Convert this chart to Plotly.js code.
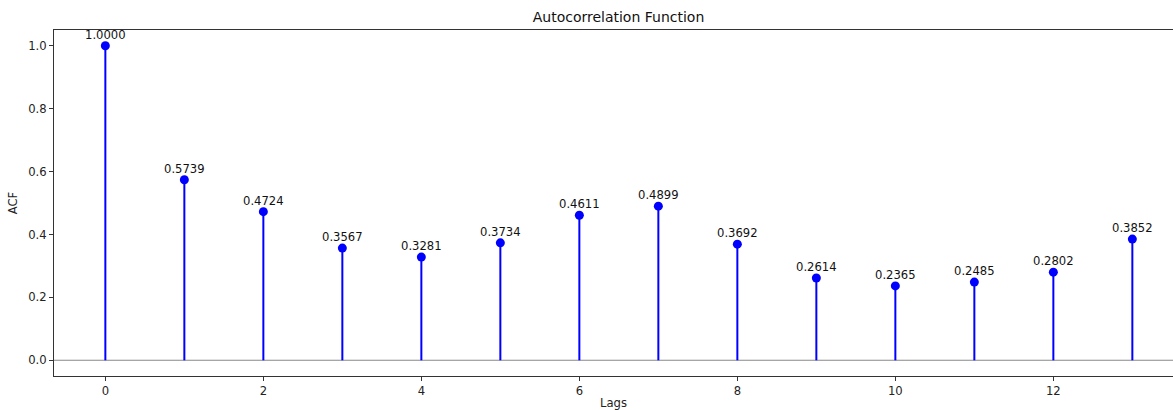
<!DOCTYPE html>
<html>
<head>
<meta charset="utf-8">
<script src="https://cdn.plot.ly/plotly-3.0.1.min.js"></script>
<style>html,body{margin:0;padding:0;background:#fff;}#chart{width:1173px;height:410px;}</style>
</head>
<body>
<div id="chart"></div>
<script>
const lags = [0, 1, 2, 3, 4, 5, 6, 7, 8, 9, 10, 11, 12, 13];
const acfValues = [1.0000, 0.5739, 0.4724, 0.3567, 0.3281, 0.3734, 0.4611, 0.4899, 0.3692, 0.2614, 0.2365, 0.2485, 0.2802, 0.3852];
const xTickVals = [0, 2, 4, 6, 8, 10, 12];
const yTickVals = [0.0, 0.2, 0.4, 0.6, 0.8, 1.0];

const FONT = "DejaVu Sans, Liberation Sans, sans-serif";
const FS = 11.6;

// stems built from the data
const stemX = [], stemY = [];
lags.forEach((l, i) => { stemX.push(l, l, null); stemY.push(0, acfValues[i], null); });

const traces = [
  {x: stemX, y: stemY, mode: 'lines', line: {color: '#0000ff', width: 2}, hoverinfo: 'skip', showlegend: false},
  {x: lags, y: acfValues, mode: 'markers', marker: {color: '#0000ff', size: 9}, showlegend: false}
];

const annotations = lags.map((l, i) => ({
  x: l, y: acfValues[i], xref: 'x', yref: 'y',
  text: acfValues[i].toFixed(4), showarrow: false,
  yanchor: 'bottom', xanchor: 'center', yshift: 2,
  font: {family: FONT, size: FS, color: '#111'}
}));

const layout = {
  width: 1173, height: 410,
  margin: {l: 54, r: 0, t: 30, b: 34},
  paper_bgcolor: '#fff', plot_bgcolor: '#fff',
  font: {family: FONT, size: FS, color: '#222'},
  title: {text: 'Autocorrelation Function', xref: 'container', x: 618.5/1173, xanchor: 'center',
          yref: 'container', y: 1 - 17/410, yanchor: 'middle', font: {family: FONT, size: 14, color: '#111'}},
  xaxis: {
    range: [-0.65, -0.65 + 1119/79], tickvals: xTickVals, ticktext: xTickVals.map(String),
    showgrid: false, zeroline: false, showline: true, linecolor: '#333', linewidth: 1, mirror: true,
    ticks: 'outside', ticklen: 4, tickcolor: '#333',
    tickfont: {family: FONT, size: FS, color: '#222'},
    title: {text: 'Lags', standoff: 3, font: {family: FONT, size: FS, color: '#222'}}
  },
  yaxis: {
    range: [-0.05, 1.05], tickvals: yTickVals, ticktext: yTickVals.map(v => v.toFixed(1)),
    showgrid: false, zeroline: false, showline: true, linecolor: '#333', linewidth: 1, mirror: false,
    ticks: 'outside', ticklen: 4, tickcolor: '#333',
    tickfont: {family: FONT, size: FS, color: '#222'},
    title: {text: 'ACF', standoff: 8, font: {family: FONT, size: FS, color: '#222'}}
  },
  shapes: [{type: 'line', xref: 'paper', x0: 0, x1: 1, yref: 'y', y0: 0, y1: 0, line: {color: '#888', width: 1.2}, layer: 'below'}],
  annotations: annotations
};

Plotly.newPlot('chart', traces, layout, {displayModeBar: false, staticPlot: true});
</script>
</body>
</html>
